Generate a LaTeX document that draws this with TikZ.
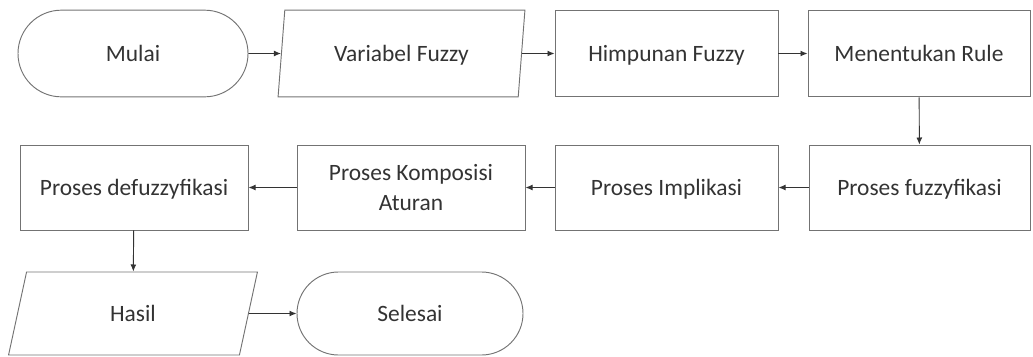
\documentclass[tikz,border=0pt]{standalone}
\usepackage{fontspec}
\setmainfont{Carlito}
\usetikzlibrary{shapes.geometric,shapes.misc,arrows.meta}

\tikzset{
  box/.style={rectangle,draw=black!55,line width=0.8pt,text=black!80,inner sep=0pt,minimum height=2.6cm,align=center},
  oneline/.style={text height=14.3pt,text depth=0pt},
  io/.style={trapezium,trapezium left angle=77,trapezium right angle=103,trapezium stretches=true,draw=black!55,line width=0.8pt,text=black!80,inner sep=0pt,minimum height=2.6cm,oneline},
  term/.style={rounded rectangle,draw=black!55,line width=0.8pt,text=black!80,inner sep=0pt,minimum height=2.6cm,oneline},
  flow/.style={draw=black!80,line width=0.8pt,-{Latex[length=6pt,width=5pt]}}
}

\begin{document}
\begin{tikzpicture}[x=0.03cm,y=-0.03cm,font=\fontsize{20}{25.5}\selectfont]
                \useasboundingbox (0,0) rectangle (1033,356);

                % baris atas
                \node[term,minimum width=6.9cm] (mulai) at (133,53.5) {Mulai};
                \node[io,minimum width=7.41cm] (variabel) at (401.5,53.5) {Variabel Fuzzy};
                \node[box,oneline,minimum width=6.69cm] (himpunan) at (666.5,53.5) {Himpunan Fuzzy};
                \node[box,oneline,minimum width=6.66cm] (rule) at (919,53.5) {Menentukan Rule};

                % baris tengah
                \node[box,oneline,minimum width=6.84cm,minimum height=2.55cm] (defuzz) at (134,187.5) {Proses defuzzyfikasi};
                \node[box,minimum width=6.84cm,minimum height=2.55cm] (komposisi) at (411,187.5) {Proses Komposisi\\Aturan};
                \node[box,oneline,minimum width=6.69cm,minimum height=2.55cm] (implikasi) at (666.5,187.5) {Proses Implikasi};
                \node[box,oneline,minimum width=6.63cm,minimum height=2.55cm] (fuzz) at (919.5,187.5) {Proses fuzzyfikasi};

                % baris bawah
                \node[io,minimum width=7.47cm,minimum height=2.49cm] (hasil) at (133,313.5) {Hasil};
                \node[term,minimum width=6.78cm,minimum height=2.49cm] (selesai) at (410,313.5) {Selesai};

                \draw[flow] (mulai) -- (variabel);
                \draw[flow] (variabel) -- (himpunan);
                \draw[flow] (himpunan) -- (rule);
                \draw[flow] (rule) -- (fuzz);
                \draw[flow] (fuzz) -- (implikasi);
                \draw[flow] (implikasi) -- (komposisi);
                \draw[flow] (komposisi) -- (defuzz);
                \draw[flow] (defuzz) -- (hasil);
                \draw[flow] (hasil) -- (selesai);
            \end{tikzpicture}
\end{document}
